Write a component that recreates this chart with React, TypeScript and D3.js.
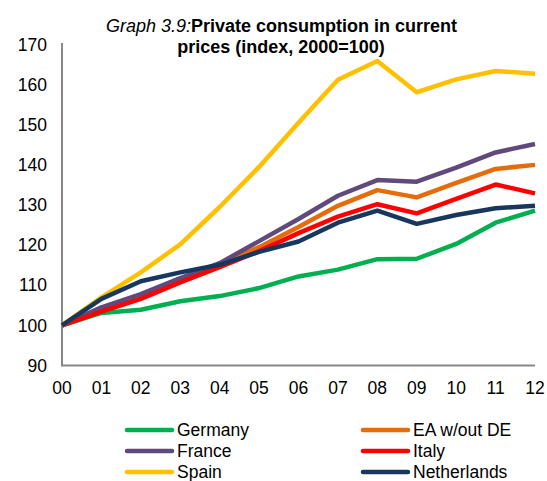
import React from "react";
import * as d3 from "d3";

const years = ["00", "01", "02", "03", "04", "05", "06", "07", "08", "09", "10", "11", "12"];
const germany = [100, 103.1, 103.9, 106.0, 107.3, 109.3, 112.2, 113.9, 116.5, 116.6, 120.3, 125.6, 128.6];
const eaWoutDE = [100, 104.0, 107.0, 111.0, 115.0, 119.5, 124.5, 129.8, 133.7, 131.9, 135.5, 139.0, 140.0];
const france = [100, 104.5, 107.8, 111.8, 115.5, 121.0, 126.5, 132.3, 136.2, 135.8, 139.3, 143.1, 145.2];
const italy = [100, 103.4, 106.6, 110.7, 114.5, 118.5, 123.0, 127.1, 130.2, 127.9, 131.5, 135.1, 132.9];
const spain = [100, 107.0, 113.2, 120.2, 129.5, 139.5, 150.5, 161.2, 165.9, 158.1, 161.3, 163.4, 162.7];
const netherlands = [100, 106.6, 111.0, 113.2, 115.1, 118.3, 120.9, 125.6, 128.6, 125.3, 127.5, 129.2, 129.8];
const yTicks = [90, 100, 110, 120, 130, 140, 150, 160, 170];

const seriesNames = ["Germany", "EA w/out DE", "France", "Italy", "Spain", "Netherlands"];
const seriesValues = [germany, eaWoutDE, france, italy, spain, netherlands];
const seriesColors = ["#00B050", "#E46C0A", "#604A7B", "#FF0000", "#FFC000", "#17375E"];

export default function App() {
  const W = 547, H = 481;
  const x = d3.scaleLinear().domain([0, years.length - 1]).range([62, 535]);
  const y = d3.scaleLinear().domain([90, 170]).range([365.5, 44.5]);
  const line = d3.line<number>().x((_, i) => x(i)).y((d) => y(d));
  const font = "'Liberation Sans', Arial, sans-serif";
  const legendPos = [
    [127, 430], [363, 430],
    [127, 451], [363, 451],
    [127, 472], [363, 472],
  ];
  return (
    <svg width={W} height={H} style={{ position: "absolute", left: 0, top: 0, background: "#fff" }} fontFamily={font}>
      <text x={281.5} y={32} textAnchor="middle" fontSize={18} fill="#000">
        <tspan fontStyle="italic">Graph 3.9:</tspan>
        <tspan fontWeight="bold">Private consumption in current</tspan>
      </text>
      <text x={281} y={53} textAnchor="middle" fontSize={18} fontWeight="bold" fill="#000">
        prices (index, 2000=100)
      </text>
      {yTicks.map((t) => (
        <text key={t} x={47} y={y(t)} dy="0.35em" textAnchor="end" fontSize={17.5} fill="#000">
          {t}
        </text>
      ))}
      {years.map((yr, i) => (
        <text key={yr} x={x(i)} y={388} dy="0.35em" textAnchor="middle" fontSize={17.5} fill="#000">
          {yr}
        </text>
      ))}
      <line x1={62} x2={62} y1={43} y2={366} stroke="#888" strokeWidth={2} />
      <line x1={61} x2={535} y1={365.5} y2={365.5} stroke="#888" strokeWidth={2} />
      {seriesValues.map((vals, k) => (
        <path key={seriesNames[k]} d={line(vals) || ""} fill="none" stroke={seriesColors[k]} strokeWidth={4.5} strokeLinejoin="round" />
      ))}
      {seriesNames.map((name, k) => {
        const [lx, ly] = legendPos[k];
        return (
          <g key={name}>
            <line x1={lx} x2={lx + 45} y1={ly} y2={ly} stroke={seriesColors[k]} strokeWidth={4.5} strokeLinecap="round" />
            <text x={lx + 50} y={ly} dy="0.35em" fontSize={17.5} fill="#000">
              {name}
            </text>
          </g>
        );
      })}
    </svg>
  );
}
